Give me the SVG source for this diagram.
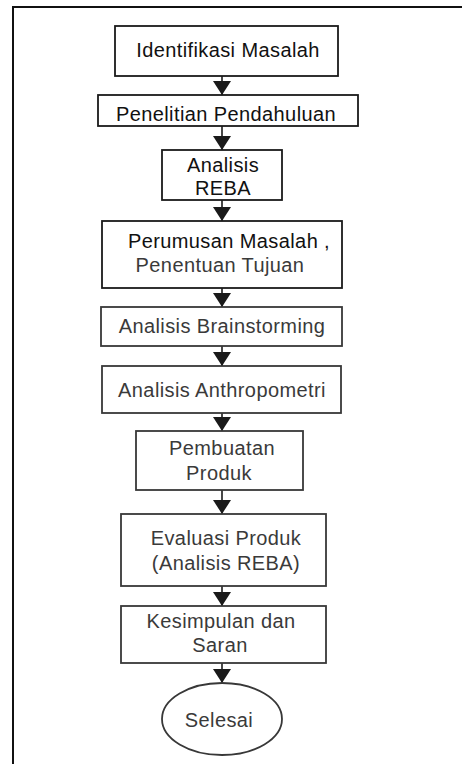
<svg xmlns="http://www.w3.org/2000/svg" width="462" height="764" viewBox="0 0 462 764">
<style>
.b{fill:#fff;stroke:#1a1a1a;stroke-width:1.8}
.g{fill:#fff;stroke:#383838;stroke-width:1.8}
.t{font-family:"Liberation Sans",Arial,sans-serif;font-size:20px;text-anchor:middle;letter-spacing:0.4px;fill:#111}
.tg{fill:#3a3a3a}
.c{stroke:#1a1a1a;stroke-width:1.6;fill:none}
</style>
<defs>
<marker id="ah" markerUnits="userSpaceOnUse" markerWidth="16" markerHeight="20" refX="14" refY="9" orient="auto">
<path d="M0,0 L14,9 L0,18 Z" fill="#1a1a1a"/>
</marker>
</defs>
<rect width="462" height="764" fill="#fff"/>
<path d="M13,764 L13,7 L462,7" fill="none" stroke="#111" stroke-width="2"/>
<g id="connectors">
<line class="c" x1="222" y1="76" x2="222" y2="95" marker-end="url(#ah)"/>
<line class="c" x1="222" y1="126" x2="222" y2="150" marker-end="url(#ah)"/>
<line class="c" x1="222" y1="200" x2="222" y2="221" marker-end="url(#ah)"/>
<line class="c" x1="222" y1="288" x2="222" y2="307" marker-end="url(#ah)"/>
<line class="c" x1="222" y1="346" x2="222" y2="366" marker-end="url(#ah)"/>
<line class="c" x1="222" y1="413" x2="222" y2="431" marker-end="url(#ah)"/>
<line class="c" x1="222" y1="490" x2="222" y2="514" marker-end="url(#ah)"/>
<line class="c" x1="222" y1="586" x2="222" y2="606" marker-end="url(#ah)"/>
<line class="c" x1="222" y1="663" x2="222" y2="683" marker-end="url(#ah)"/>
</g>
<g id="n1"><rect class="b" x="115" y="26" width="223" height="50"/><text class="t" x="228" y="57">Identifikasi Masalah</text></g>
<g id="n2"><rect class="b" x="98" y="95" width="260" height="31"/><text class="t" x="226" y="121">Penelitian Pendahuluan</text></g>
<g id="n3"><rect class="b" x="162" y="150" width="120" height="50"/><text class="t" x="223" y="172">Analisis</text><text class="t" x="223" y="195">REBA</text></g>
<g id="n4"><rect class="b" x="102" y="221" width="240" height="67"/><text class="t" x="229" y="248">Perumusan Masalah ,</text><text class="t tg" x="220" y="272">Penentuan Tujuan</text></g>
<g id="n5"><rect class="g" x="101" y="307" width="241" height="39"/><text class="t tg" x="222" y="333">Analisis Brainstorming</text></g>
<g id="n6"><rect class="g" x="102" y="366" width="239" height="47"/><text class="t tg" x="222" y="397">Analisis Anthropometri</text></g>
<g id="n7"><rect class="g" x="136" y="431" width="167" height="59"/><text class="t tg" x="222" y="455">Pembuatan</text><text class="t tg" x="219" y="480">Produk</text></g>
<g id="n8"><rect class="g" x="121" y="514" width="205" height="72"/><text class="t tg" x="226" y="545">Evaluasi Produk</text><text class="t tg" x="226" y="570">(Analisis REBA)</text></g>
<g id="n9"><rect class="g" x="121" y="606" width="205" height="57"/><text class="t tg" x="221" y="628">Kesimpulan dan</text><text class="t tg" x="220" y="652">Saran</text></g>
<g id="n10"><ellipse class="g" cx="222" cy="719" rx="60" ry="36"/><text class="t tg" x="219" y="727">Selesai</text></g>
</svg>
